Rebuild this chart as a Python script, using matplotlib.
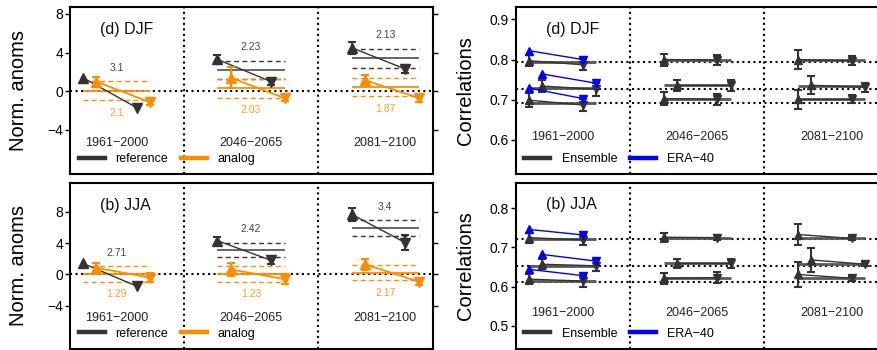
import numpy as np
import matplotlib
matplotlib.use("Agg")
import matplotlib.pyplot as plt
from matplotlib.lines import Line2D
from matplotlib.transforms import blended_transform_factory

plt.rcParams['font.family'] = ['Liberation Sans', 'DejaVu Sans']
plt.rcParams['axes.unicode_minus'] = True

periods = ["1961−2000", "2046−2065", "2081−2100"]

# ---------------- Normalized anomalies: DJF ----------------
djf_ref_start = [1.4, 3.3, 4.5]
djf_ref_start_err = [0.0, 0.45, 0.6]
djf_ref_end = [-1.7, 1.0, 2.3]
djf_ref_end_err = [0.0, 0.35, 0.45]
djf_ana_start = [1.0, 1.4, 1.15]
djf_ana_start_err = [0.5, 1.1, 0.55]
djf_ana_end = [-1.15, -0.7, -0.7]
djf_ana_end_err = [0.25, 0.3, 0.4]
djf_ref_mean = [np.nan, 2.2, 3.42]
djf_ref_sd = [np.nan, 0.97, 0.98]
djf_ana_mean = [0.05, 0.33, 0.45]
djf_ana_sd = [0.98, 0.98, 0.96]
djf_ref_labels = ["3.1", "2.23", "2.13"]
djf_ana_labels = ["2.1", "2.03", "1.87"]

# ---------------- Normalized anomalies: JJA ----------------
jja_ref_start = [1.4, 4.3, 7.66]
jja_ref_start_err = [0.0, 0.45, 0.85]
jja_ref_end = [-1.5, 1.79, 4.04]
jja_ref_end_err = [0.0, 0.5, 0.96]
jja_ana_start = [0.85, 0.63, 1.28]
jja_ana_start_err = [0.55, 0.8, 0.66]
jja_ana_end = [-0.43, -0.6, -0.94]
jja_ana_end_err = [0.6, 0.64, 0.4]
jja_ref_mean = [np.nan, 3.1, 5.92]
jja_ref_sd = [np.nan, 0.94, 1.02]
jja_ana_mean = [0.06, 0.06, 0.21]
jja_ana_sd = [1.0, 1.0, 0.98]
jja_ref_labels = ["2.71", "2.42", "3.4"]
jja_ana_labels = ["1.29", "1.23", "2.17"]

# ---------------- Correlations: DJF (3 groups x 3 periods) ----------------
djf_ens_start = [[0.797, 0.800, 0.800], [0.734, 0.736, 0.736], [0.699, 0.703, 0.701]]
djf_ens_start_err = [[0.014, 0.015, 0.024], [0.015, 0.014, 0.022], [0.017, 0.017, 0.023]]
djf_ens_end = [[0.787, 0.799, 0.797], [0.726, 0.736, 0.731], [0.687, 0.701, 0.701]]
djf_ens_end_err = [[0.014, 0.013, 0.011], [0.016, 0.013, 0.011], [0.016, 0.014, 0.010]]
djf_ens_mean = [[0.794, 0.800, 0.798], [0.728, 0.736, 0.734], [0.691, 0.701, 0.701]]
djf_era_start = [0.822, 0.764, 0.729]
djf_era_end = [0.800, 0.741, 0.703]
djf_ref_level = [0.793, 0.727, 0.691]

# ---------------- Correlations: JJA ----------------
jja_ens_start = [[0.725, 0.726, 0.733], [0.657, 0.659, 0.668], [0.619, 0.621, 0.631]]
jja_ens_start_err = [[0.013, 0.012, 0.028], [0.013, 0.011, 0.030], [0.013, 0.014, 0.031]]
jja_ens_end = [[0.719, 0.725, 0.723], [0.653, 0.659, 0.657], [0.614, 0.623, 0.621]]
jja_ens_end_err = [[0.014, 0.006, 0.005], [0.014, 0.012, 0.005], [0.014, 0.014, 0.006]]
jja_ens_mean = [[0.721, 0.725, 0.723], [0.653, 0.659, 0.657], [0.613, 0.621, 0.621]]
jja_era_start = [0.746, 0.682, 0.644]
jja_era_end = [0.732, 0.665, 0.628]
jja_ref_level = [0.721, 0.652, 0.612]

DARK = '#333333'
GRAY = '#5a5a5a'
ORANGE = '#ff8c00'
BLUE = '#0000ff'

W, H = 878, 350
fig = plt.figure(figsize=(W / 100, H / 100), dpi=100)


def px_axes(x0, y0, x1, y1):
    return fig.add_axes([x0 / W, 1 - y1 / H, (x1 - x0) / W, (y1 - y0) / H])


def style_axes(ax, ylim, yticks, ylabel, right_ticks, label_x):
    ax.set_xlim(-0.097, 2.605)
    ax.set_ylim(*ylim)
    ax.set_yticks(yticks)
    ax.set_xticks([])
    for s in ax.spines.values():
        s.set_linewidth(1.5)
    ax.tick_params(axis='y', length=3.5, width=1, labelsize=10, pad=1.5,
                   right=right_ticks, direction='out')
    ax.set_ylabel(ylabel, fontsize=14.5)
    ax.yaxis.set_label_coords(label_x, 0.5)


def anom_panel(ax, rs, rse, re_, ree, as_, ase, ae, aee, rm, rsd, am, asd,
               rlab, alab, title, label_y):
    sec = np.arange(len(periods))
    ax.axhline(0, color='k', ls=':', lw=1.5, zorder=1)
    for s in sec[:-1]:
        ax.axvline(s + 0.75, color='k', ls=':', lw=1.5, zorder=1)
    for i in sec:
        if not np.isnan(rm[i]):
            ax.hlines(rm[i], i, i + 0.5, color=GRAY, lw=1.3, zorder=2)
            ax.hlines([rm[i] + rsd[i], rm[i] - rsd[i]], i, i + 0.5, color=DARK,
                      lw=1.0, linestyles=(0, (3.5, 2.5)), zorder=2)
        ax.hlines(am[i], i, i + 0.5, color=ORANGE, lw=1.3, zorder=2)
        ax.hlines([am[i] + asd[i], am[i] - asd[i]], i, i + 0.5, color=ORANGE,
                  lw=1.0, linestyles=(0, (3.5, 2.5)), zorder=2)
        ax.plot([i, i + 0.4], [rs[i], re_[i]], color=DARK, lw=1.0, zorder=3)
        ax.plot([i + 0.1, i + 0.5], [as_[i], ae[i]], color=ORANGE, lw=1.3, zorder=3)
        for x, y, e, c in [(i, rs[i], rse[i], DARK), (i + 0.4, re_[i], ree[i], DARK),
                           (i + 0.1, as_[i], ase[i], ORANGE), (i + 0.5, ae[i], aee[i], ORANGE)]:
            if e > 0:
                ax.errorbar(x, y, yerr=e, fmt='none', ecolor=c, elinewidth=1.5,
                            capsize=2.8, capthick=1.5, zorder=4)
        ax.plot(i, rs[i], marker='^', color=DARK, ms=6.8, ls='none', zorder=5)
        ax.plot(i + 0.4, re_[i], marker='v', color=DARK, ms=6.8, ls='none', zorder=5)
        ax.plot(i + 0.1, as_[i], marker='^', color=ORANGE, ms=6.8, ls='none', zorder=5)
        ax.plot(i + 0.5, ae[i], marker='v', color=ORANGE, ms=6.8, ls='none', zorder=5)
        top = np.nanmax([rm[i] + rsd[i], am[i] + asd[i]])
        ax.annotate(rlab[i], (i + 0.25, top), xytext=(0, 9.6), textcoords='offset points',
                    ha='center', va='center', fontsize=7.5, color='#444444')
        ax.annotate(alab[i], (i + 0.25, am[i] - asd[i]), xytext=(0, -9.0),
                    textcoords='offset points', ha='center', va='center',
                    fontsize=7.5, color='#ff9a2e')
    tr = blended_transform_factory(ax.transData, ax.transAxes)
    for i in sec:
        ax.text(i + 0.25, label_y, periods[i], transform=tr, ha='center', va='center',
                fontsize=9, color='#222222')
    ax.text(0.083, 0.865, title, transform=ax.transAxes, ha='left', va='center',
            fontsize=11.5, color='#111111')
    handles = [Line2D([], [], color=DARK, lw=3.2), Line2D([], [], color=ORANGE, lw=3.2)]
    ax.legend(handles, ['reference', 'analog'], ncol=2, frameon=False,
              loc='center left', bbox_to_anchor=(0.025, 0.092), borderpad=0,
              borderaxespad=0, handlelength=2.1, handletextpad=0.8,
              columnspacing=1.05, fontsize=9)


def corr_panel(ax, es, ese, ee, eee, em, era_s, era_e, ref, title, label_y):
    sec = np.arange(len(periods))
    group_off = [0.0, 0.1, 0.0]
    for lvl in ref:
        ax.axhline(lvl, color='k', ls=':', lw=1.5, zorder=1)
    for s in sec[:-1]:
        ax.axvline(s + 0.75, color='k', ls=':', lw=1.5, zorder=1)
    for g in range(3):
        o = group_off[g]
        for i in sec:
            ax.hlines(em[g][i], i, i + 0.5, color=GRAY, lw=2.0, zorder=2)
            ax.plot([i + o, i + o + 0.4], [es[g][i], ee[g][i]], color=DARK, lw=1.0, zorder=3)
            ax.errorbar(i + o, es[g][i], yerr=ese[g][i], fmt='none', ecolor=DARK,
                        elinewidth=1.5, capsize=2.8, capthick=1.5, zorder=4)
            ax.errorbar(i + o + 0.4, ee[g][i], yerr=eee[g][i], fmt='none', ecolor=DARK,
                        elinewidth=1.5, capsize=2.8, capthick=1.5, zorder=4)
            ax.plot(i + o, es[g][i], marker='^', color=DARK, ms=6.2, ls='none', zorder=5)
            ax.plot(i + o + 0.4, ee[g][i], marker='v', color=DARK, ms=6.2, ls='none', zorder=5)
        ax.plot([o, o + 0.4], [era_s[g], era_e[g]], color=BLUE, lw=1.0, zorder=6)
        ax.plot(o, era_s[g], marker='^', color=BLUE, ms=6.2, ls='none', zorder=7)
        ax.plot(o + 0.4, era_e[g], marker='v', color=BLUE, ms=6.2, ls='none', zorder=7)
    tr = blended_transform_factory(ax.transData, ax.transAxes)
    for i in sec:
        ax.text(i + 0.25, label_y, periods[i], transform=tr, ha='center', va='center',
                fontsize=9, color='#222222')
    ax.text(0.082, 0.868, title, transform=ax.transAxes, ha='left', va='center',
            fontsize=11.5, color='#111111')
    handles = [Line2D([], [], color=DARK, lw=3.2), Line2D([], [], color=BLUE, lw=3.2)]
    ax.legend(handles, ['Ensemble', 'ERA−40'], ncol=2, frameon=False,
              loc='center left', bbox_to_anchor=(0.022, 0.092), borderpad=0,
              borderaxespad=0, handlelength=2.1, handletextpad=0.9,
              columnspacing=1.0, fontsize=9)


ax_tl = px_axes(70, 7, 433, 174.3)
ax_bl = px_axes(70, 182.7, 433, 349)
ax_tr = px_axes(516, 7, 880, 174.3)
ax_br = px_axes(516, 182.7, 880, 349)

style_axes(ax_tl, (-8.59, 8.72), [-4, 0, 4, 8], 'Norm. anoms', True, -0.117)
style_axes(ax_bl, (-9.52, 11.7), [-4, 0, 4, 8], 'Norm. anoms', True, -0.117)
style_axes(ax_tr, (0.5147, 0.9306), [0.6, 0.7, 0.8, 0.9], 'Correlations', False, -0.112)
style_axes(ax_br, (0.4405, 0.8654), [0.5, 0.6, 0.7, 0.8], 'Correlations', False, -0.112)
for ax in (ax_tr, ax_br):
    ax.set_xlim(-0.097, 2.61)

anom_panel(ax_tl, djf_ref_start, djf_ref_start_err, djf_ref_end, djf_ref_end_err,
           djf_ana_start, djf_ana_start_err, djf_ana_end, djf_ana_end_err,
           djf_ref_mean, djf_ref_sd, djf_ana_mean, djf_ana_sd,
           djf_ref_labels, djf_ana_labels, '(d) DJF', 0.187)
anom_panel(ax_bl, jja_ref_start, jja_ref_start_err, jja_ref_end, jja_ref_end_err,
           jja_ana_start, jja_ana_start_err, jja_ana_end, jja_ana_end_err,
           jja_ref_mean, jja_ref_sd, jja_ana_mean, jja_ana_sd,
           jja_ref_labels, jja_ana_labels, '(b) JJA', 0.185)
corr_panel(ax_tr, djf_ens_start, djf_ens_start_err, djf_ens_end, djf_ens_end_err,
           djf_ens_mean, djf_era_start, djf_era_end, djf_ref_level, '(d) DJF', 0.221)
corr_panel(ax_br, jja_ens_start, jja_ens_start_err, jja_ens_end, jja_ens_end_err,
           jja_ens_mean, jja_era_start, jja_era_end, jja_ref_level, '(b) JJA', 0.215)

fig.savefig('out.png', dpi=100)
